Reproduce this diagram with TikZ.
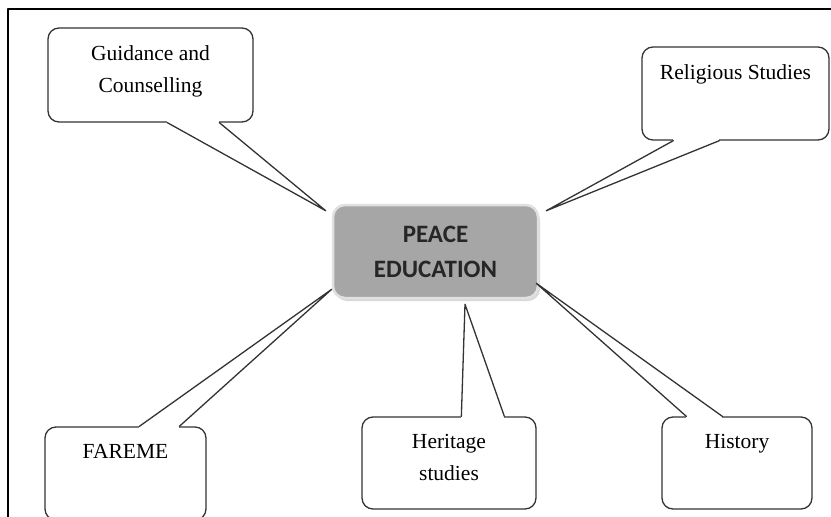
\documentclass[tikz,border=0pt]{standalone}
\usepackage{fontspec}
\setmainfont{Liberation Serif}
\newfontfamily\calibri{Carlito}
\usetikzlibrary{shadows}

\begin{document}
\begin{tikzpicture}[x=1pt, y=-1pt, line join=round]
      \tikzstyle{callbox}=[draw=black!80, line width=1.3pt, fill=white, rounded corners=11pt, inner sep=0pt]
      \tikzstyle{calltext}=[anchor=north, inner sep=0pt, align=center, yshift=-18pt, font=\fontsize{21.5}{32}\selectfont]
      \tikzstyle{tail}=[draw=black!80, line width=1.3pt, line cap=round]
      \tikzstyle{gap}=[fill=white]
      \tikzstyle{hub}=[rounded corners=12pt, fill=black!35, draw=black!12, line width=2.5pt,
        drop shadow={shadow xshift=2pt, shadow yshift=-3pt, fill=black!30},
        minimum width=205pt, minimum height=93pt, align=center, text=black!85,
        font=\calibri\bfseries\fontsize{25}{35}\selectfont]

      \clip (0,0) rectangle (831,517);
      \draw[line width=1.3pt] (8,517) -- (8,9) -- (831,9);

      \node[hub] (peace) at (435.5,251.5) {PEACE\\EDUCATION};

      \node[callbox, minimum width=205pt, minimum height=94pt] (guid) at (150.5,75) {};
      \node[calltext] (guid text) at (guid.north) {Guidance and\\Counselling};
      \node[callbox, minimum width=187pt, minimum height=93pt] (relig) at (735.5,93.5) {};
      \node[calltext] (relig text) at (relig.north) {Religious Studies};
      \node[callbox, minimum width=161pt, minimum height=93pt] (fareme) at (125.5,473.5) {};
      \node[calltext] (fareme text) at (fareme.north) {FAREME};
      \node[callbox, minimum width=174pt, minimum height=92pt] (herit) at (449,463) {};
      \node[calltext] (herit text) at (herit.north) {Heritage\\studies};
      \node[callbox, minimum width=150pt, minimum height=92pt] (hist) at (737,463) {};
      \node[calltext] (hist text) at (hist.north) {History};

      % tail ends on the boxes and tips at the hub
      \coordinate (guid a) at ([xshift=120pt]guid.south west);
      \coordinate (guid b) at ([xshift=172pt]guid.south west);
      \coordinate (guid tip) at ([xshift=-6pt, yshift=-7pt]peace.north west);
      \coordinate (relig a) at ([xshift=32pt]relig.south west);
      \coordinate (relig b) at ([xshift=78pt]relig.south west);
      \coordinate (relig tip) at ([xshift=7pt, yshift=-7pt]peace.north east);
      \coordinate (fareme a) at ([xshift=95pt]fareme.north west);
      \coordinate (fareme b) at ([xshift=135pt]fareme.north west);
      \coordinate (fareme tip) at ([yshift=10pt]peace.south west);
      \coordinate (herit a) at ([xshift=100pt]herit.north west);
      \coordinate (herit b) at ([xshift=143pt]herit.north west);
      \coordinate (herit tip) at ([xshift=29.5pt, yshift=-5pt]peace.south);
      \coordinate (hist a) at ([xshift=25pt]hist.north west);
      \coordinate (hist b) at ([xshift=61pt]hist.north west);
      \coordinate (hist tip) at ([xshift=-3pt, yshift=16pt]peace.south east);

      \foreach \b in {guid, relig, fareme, herit, hist} {
        \fill[gap] ([yshift=1.4pt]\b\space a) rectangle ([yshift=-1.4pt]\b\space b);
        \draw[tail] (\b\space a) -- (\b\space tip) -- (\b\space b);
      }
\end{tikzpicture}
\end{document}
